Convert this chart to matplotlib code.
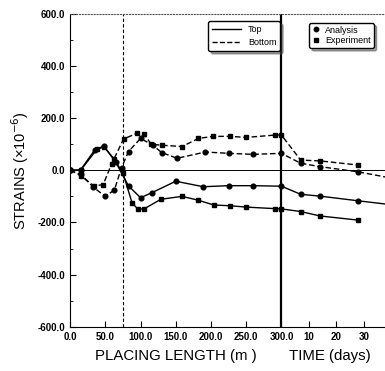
import matplotlib
matplotlib.use('Agg')
import matplotlib.pyplot as plt
from matplotlib.lines import Line2D
from matplotlib.ticker import MultipleLocator

plt.rcParams['font.family'] = ['Liberation Sans', 'DejaVu Sans']

# time axis is squeezed onto the placing-length axis after 300 m
DAY = 3.9   # m-units per day
X_END = 300.0

# Top (solid) - analysis (circles)
top_ana_len = [0, 15, 35, 48, 65, 83, 100, 116, 150, 189, 225, 260, 300]
top_ana_val = [0, 2, 78, 93, 30, -60, -105, -86, -42, -63, -59, -59, -61]
top_ana_day = [7, 14, 28, 40]
top_ana_dval = [-92, -99, -117, -132]

# Top (solid) - experiment (squares)
top_exp_len = [0, 15, 38, 48, 62, 75, 88, 96, 105, 129, 159, 181, 204, 227, 250, 291, 300]
top_exp_val = [0, 0, 80, 90, 45, -10, -125, -148, -148, -111, -100, -114, -133, -136, -141, -147, -148]
top_exp_day = [7, 14, 28]
top_exp_dval = [-158, -175, -191]

# Bottom (dashed) - analysis (circles)
bot_ana_len = [0, 15, 33, 50, 63, 73, 83, 100, 117, 130, 152, 192, 225, 260, 300]
bot_ana_val = [0, -15, -65, -100, -75, 10, 72, 122, 97, 68, 46, 70, 65, 61, 65]
bot_ana_day = [7, 14, 28, 40]
bot_ana_dval = [27, 14, -6, -30]

# Bottom (dashed) - experiment (squares)
bot_exp_len = [0, 15, 34, 47, 59, 76, 95, 105, 115, 130, 159, 182, 203, 227, 250, 291, 300]
bot_exp_val = [0, -20, -60, -55, 25, 120, 142, 140, 100, 96, 91, 122, 130, 130, 126, 135, 135]
bot_exp_day = [7, 14, 28]
bot_exp_dval = [39, 36, 20]

len_ticks = [0, 50, 100, 150, 200, 250, 300]
day_ticks = [10, 20, 30]
y_ticks = [-600, -400, -200, 0, 200, 400, 600]


def xs(lengths, days):
    return list(lengths) + [X_END + d * DAY for d in days]


fig = plt.figure(figsize=(3.85, 3.71), dpi=100)
ax = fig.add_axes([0.182, 0.119, 0.818, 0.844])

series = [
    (top_ana_len, top_ana_val, top_ana_day, top_ana_dval, '-', 'o'),
    (top_exp_len, top_exp_val, top_exp_day, top_exp_dval, '-', 's'),
    (bot_ana_len, bot_ana_val, bot_ana_day, bot_ana_dval, '--', 'o'),
    (bot_exp_len, bot_exp_val, bot_exp_day, bot_exp_dval, '--', 's'),
]
for ln, val, dy, dval, ls, mk in series:
    line, = ax.plot(xs(ln, dy), list(val) + list(dval), color='black', linestyle=ls,
                    lw=1.0, marker=mk, markersize=3.4)
    if ls == '--':
        line.set_dashes((4, 2))

ax.axhline(0, color='black', lw=0.7)
ax.axvline(75, color='black', lw=0.8, linestyle='--', dashes=(3, 2))
ax.axvline(X_END, color='black', lw=1.6)

ax.set_xlim(0, 447)
ax.set_ylim(-600, 600)
ax.set_xticks(len_ticks + [X_END + d * DAY for d in day_ticks])
ax.set_xticklabels(['%.1f' % t for t in len_ticks] + [str(d) for d in day_ticks])
ax.set_yticks(y_ticks)
ax.set_yticklabels(['%.1f' % t for t in y_ticks])
ax.yaxis.set_minor_locator(MultipleLocator(100))
ax.tick_params(direction='in', length=4, width=0.8, labelsize=7)
ax.tick_params(which='minor', direction='in', length=2, width=0.6)
ax.tick_params(axis='x', pad=4)
for lab in ax.get_xticklabels() + ax.get_yticklabels():
    lab.set_fontweight('bold')

ax.spines['right'].set_visible(False)
ax.spines['top'].set_linestyle(':')
ax.spines['top'].set_linewidth(0.8)
ax.spines['top'].set_color('#555555')

ax.set_ylabel(u'STRAINS (\u00d710$^{-6}$)', fontsize=10.5, labelpad=5)
fig.text(0.457, 0.03, 'PLACING LENGTH (m )', fontsize=10.8, ha='center')
fig.text(0.857, 0.03, 'TIME (days)', fontsize=10.8, ha='center')

h1 = [Line2D([], [], color='black', lw=1.0, ls='-'),
      Line2D([], [], color='black', lw=1.0, ls='--')]
leg1 = ax.legend(h1, ['Top', 'Bottom'], loc='upper left', bbox_to_anchor=(0.425, 0.99),
                 fontsize=6.5, handlelength=3.2, fancybox=True, shadow=True,
                 edgecolor='black', framealpha=1, borderpad=0.4, labelspacing=0.5)
ax.add_artist(leg1)
h2 = [Line2D([], [], color='black', ls='', marker='o', markersize=3.2),
      Line2D([], [], color='black', ls='', marker='s', markersize=3.2)]
ax.legend(h2, ['Analysis', 'Experiment'], loc='upper left', bbox_to_anchor=(0.745, 0.985),
          fontsize=6.5, handlelength=1.0, fancybox=True, shadow=True,
          edgecolor='black', framealpha=1, borderpad=0.3, labelspacing=0.2,
          handletextpad=0.5)

fig.savefig('out.png', dpi=100)
